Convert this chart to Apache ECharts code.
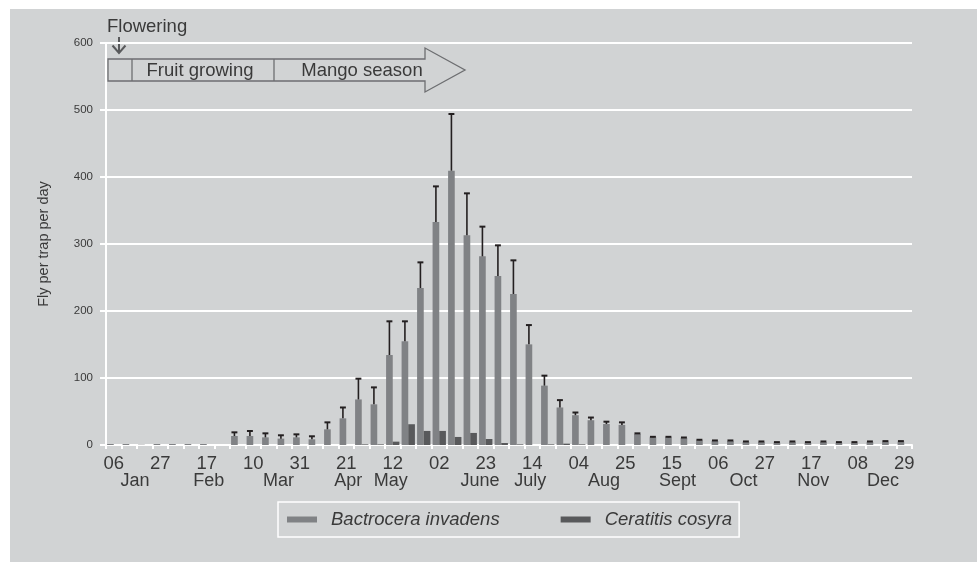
<!DOCTYPE html>
<html>
<head>
<meta charset="utf-8">
<script src="https://cdn.jsdelivr.net/npm/echarts@6/dist/echarts.min.js"></script>
<style>
html,body{margin:0;padding:0;background:#fff;}
#main{width:977px;height:562px;}
</style>
</head>
<body>
<div id="main"></div>
<script>
// ---- data ----
const weekLabels = ['06','27','17','10','31','21','12','02','23','14','04','25','15','06','27','17','08','29'];
const monthNames = ['Jan','Feb','Mar','Apr','May','June','July','Aug','Sept','Oct','Nov','Dec'];
// month label centre, in weeks from the first sampling week
const monthWeek = [1.37, 6.0, 10.6, 15.2, 17.9, 23.5, 26.9, 31.5, 36.3, 40.7, 45.1, 49.7];
const bactrocera = [1.5,1.5,0.5,1.5,1.5,1.5,1.5,0,13.4,13.4,11.4,9.5,11.4,8.5,23.4,39.8,68,60.7,134.3,154.8,234.3,332.8,409.4,313,281.6,252.2,225.4,150.2,88.6,56,44.5,37,31.3,30,16.4,11.4,11.4,10.4,7,6,6,4.5,4.5,3.5,4.5,3.5,4.5,3.5,3.5,4.5,5,5];
const bactroceraSE = [0,0,0,0,0,0,0,0,5.5,7.5,6,5,4.5,4.5,10.4,16.2,31,25.3,50.3,29.8,38.3,53.2,84.6,62.6,44.3,45.8,50.2,28.8,14.9,11,4,4,3.5,3.8,1,0.8,0.8,0.8,0.8,0.8,0.8,0.8,0.8,0.8,0.8,0.8,0.8,0.8,0.8,0.8,0.8,0.8];
const ceratitis = [0,0,0,0,0,0,0,0,0,0,0,0,0,0,0,0,1,1,5,31,21,21,12,18,9,3,1,0,1,2,1,0,0,0,0,0,0,0,0,0,0,0,0,0,0,0,0,0,0,0,0,0];
const yTicks = {min:0, max:600, step:100};

// ---- derived ----
const weekCats = bactrocera.map((v,i) => (i % 3 === 0 ? weekLabels[i/3] : ' ' + i));
const quarterCats = [];
for (let j = 0; j < bactrocera.length * 4; j++) quarterCats.push('q' + j);
const monthAt = {};
monthWeek.forEach((w,k) => { monthAt[Math.round(4*w + 1.5)] = monthNames[k]; });
const errData = bactrocera.map((v,i) => [i, v, v + bactroceraSE[i], bactroceraSE[i]]);

const TXT = '#3a3a3a';
const FONT = 'Liberation Sans, Arial, sans-serif';
const GAP = 0.14;

const chart = echarts.init(document.getElementById('main'), null, {renderer:'canvas'});
chart.setOption({
  backgroundColor: '#d1d3d4',
  animation: false,
  textStyle: {fontFamily: FONT, color: TXT},
  grid: {left: 106, right: 65, top: 43, bottom: 117, containLabel: false},
  legend: {
    left: 278, top: 502,
    data: ['Bactrocera invadens','Ceratitis cosyra'],
    icon: 'rect', itemWidth: 30, itemHeight: 6, itemGap: 61,
    padding: [8, 7, 8, 9],
    borderColor: '#ffffff', borderWidth: 1.5,
    textStyle: {fontFamily: FONT, fontStyle: 'italic', fontSize: 18.5, color: TXT, padding: [0,0,0,9]}
  },
  xAxis: [{
    type: 'category', data: weekCats, boundaryGap: true,
    axisLine: {lineStyle: {color: '#ffffff', width: 2}},
    axisTick: {show: true, interval: 0, length: 4, lineStyle: {color: '#ffffff', width: 2}},
    axisLabel: {interval: 2, fontSize: 18.5, color: TXT, margin: 9, fontFamily: FONT,
      formatter: v => v.trim().length === 2 ? v : ''}
  },{
    type: 'category', data: quarterCats, position: 'bottom', boundaryGap: true,
    axisLine: {show: false}, axisTick: {show: false}, splitLine: {show: false},
    axisLabel: {interval: 0, fontSize: 18, color: TXT, margin: 27, fontFamily: FONT,
      formatter: (v, idx) => monthAt[idx] || ''}
  }],
  yAxis: {
    type: 'value', min: yTicks.min, max: yTicks.max, interval: yTicks.step,
    name: 'Fly per trap per day', nameLocation: 'middle', nameGap: 55,
    nameTextStyle: {fontSize: 14.5, color: TXT, fontFamily: FONT},
    axisLine: {show: true, lineStyle: {color: '#ffffff', width: 2}},
    axisTick: {show: true, length: 6, lineStyle: {color: '#ffffff', width: 2}},
    axisLabel: {fontSize: 11.5, color: TXT, margin: 13, fontFamily: FONT},
    splitLine: {lineStyle: {color: '#ffffff', width: 2}}
  },
  series: [{
    name: 'Bactrocera invadens', type: 'bar', data: bactrocera,
    barGap: '0%', barCategoryGap: (GAP*100) + '%',
    itemStyle: {color: '#808285'}, z: 2
  },{
    name: 'Ceratitis cosyra', type: 'bar', data: ceratitis,
    barGap: '0%', barCategoryGap: (GAP*100) + '%',
    itemStyle: {color: '#58595b'}, z: 2
  },{
    name: 'err', type: 'custom', data: errData, z: 3,
    encode: {x: 0, y: [1,2]},
    renderItem: function(params, api){
      if (api.value(3) <= 0) return null;
      const i = api.value(0);
      const b = api.coord([i, api.value(1)]);
      const t = api.coord([i, api.value(2)]);
      const bw = api.size([1,0])[0];
      const x = b[0] - bw*(1-GAP)/4;
      const cw = bw*(1-GAP)/4.5;
      const st = {stroke: '#231f20', lineWidth: 1.6};
      return {type: 'group', children: [
        {type: 'line', shape: {x1: x, y1: b[1], x2: x, y2: t[1]}, style: st},
        {type: 'line', shape: {x1: x - cw, y1: t[1], x2: x + cw, y2: t[1]}, style: {stroke: '#231f20', lineWidth: 2}}
      ]};
    }
  }],
  graphic: [
    {type: 'rect', shape: {x: 0, y: 0, width: 977, height: 9}, style: {fill: '#ffffff'}, silent: true},
    {type: 'rect', shape: {x: 0, y: 0, width: 10, height: 562}, style: {fill: '#ffffff'}, silent: true},
    {type: 'text', left: 107, top: 17, style: {text: 'Flowering', fontSize: 18.5, fill: TXT, fontFamily: FONT}},
    {type: 'line', shape: {x1: 119, y1: 37, x2: 119, y2: 53}, style: {stroke: '#58595b', lineWidth: 2}},
    {type: 'polyline', shape: {points: [[112.5,45.5],[119,53],[125.5,45.5]]}, style: {stroke: '#58595b', lineWidth: 2, fill: null}},
    {type: 'polygon', shape: {points: [[108,59],[425,59],[425,48],[465,70],[425,92],[425,81],[108,81]]},
      style: {stroke: '#6d6e71', lineWidth: 1.3, fill: null}},
    {type: 'line', shape: {x1: 132, y1: 59, x2: 132, y2: 81}, style: {stroke: '#6d6e71', lineWidth: 1.3}},
    {type: 'line', shape: {x1: 274, y1: 59, x2: 274, y2: 81}, style: {stroke: '#6d6e71', lineWidth: 1.3}},
    {type: 'text', x: 200, y: 71, style: {text: 'Fruit growing', fontSize: 18.5, fill: TXT, fontFamily: FONT, textAlign: 'center', textVerticalAlign: 'middle'}},
    {type: 'text', x: 362, y: 71, style: {text: 'Mango season', fontSize: 18.5, fill: TXT, fontFamily: FONT, textAlign: 'center', textVerticalAlign: 'middle'}}
  ]
});
</script>
</body>
</html>
